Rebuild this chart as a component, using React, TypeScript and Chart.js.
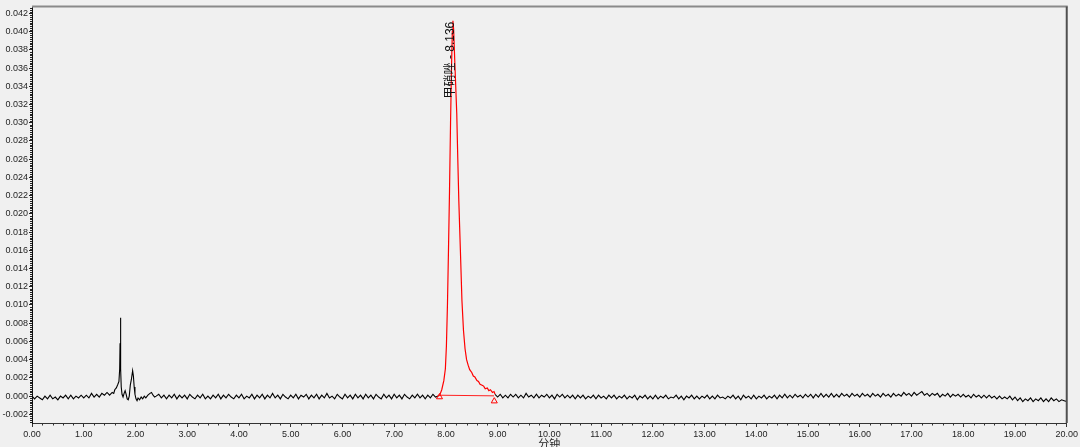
import { useEffect, useRef } from "react";
import { Chart, registerables } from "chart.js";

Chart.register(...registerables);

// ---- axis ticks ----
const xTickValues = [0, 1, 2, 3, 4, 5, 6, 7, 8, 9, 10, 11, 12, 13, 14, 15, 16, 17, 18, 19, 20];
const yTickValues = [
  -0.002, 0.0, 0.002, 0.004, 0.006, 0.008, 0.01, 0.012, 0.014, 0.016, 0.018, 0.02, 0.022,
  0.024, 0.026, 0.028, 0.03, 0.032, 0.034, 0.036, 0.038, 0.04, 0.042,
];
const xMin = 0;
const xMax = 20;
const yMin = -0.00295;
const yMax = 0.04277;
const xTitle = "分钟";

// ---- black trace, uniformly sampled segments ----
const sampleStep = 0.05;

const traceAStart = 0.0;
const traceA = [
  0.0, -0.0003, 0.0, -0.0002, -0.0004, 0.0, -0.0003, 0.0001, -0.0003, -0.0001,
  -0.0004, 0.0, -0.0002, 0.0001, -0.0003, 0.0001, -0.0003, 0.0, -0.0002, 0.0001,
  -0.0002, 0.0001, -0.0002, 0.0003, -0.0001, 0.0002, -0.0001, 0.0003, 0.0001, 0.0004,
];

// small early peaks (irregular sampling)
const earlyTime = [
  1.5, 1.55, 1.58, 1.6, 1.63, 1.66, 1.68, 1.695, 1.702, 1.708, 1.713, 1.718, 1.725, 1.74,
  1.76, 1.78, 1.8, 1.82, 1.84, 1.86, 1.88, 1.9, 1.92, 1.945, 1.96, 1.975, 1.99, 2.01, 2.03,
  2.05, 2.08, 2.11, 2.14, 2.17, 2.2, 2.24, 2.28, 2.31, 2.34, 2.37, 2.4,
];
const earlyValue = [
  0.0001, 0.0004, 0.0003, 0.0007, 0.0009, 0.0013, 0.0016, 0.003, 0.0058, 0.0086, 0.0062,
  0.003, 0.001, 0.0002, -0.0001, 0.0003, 0.0006, 0.0002, -0.0003, -0.0004, 0.0, 0.0012,
  0.0018, 0.0028, 0.0022, 0.001, 0.0002, -0.0003, -0.0005, -0.0002, -0.0004, -0.0001,
  -0.0003, 0.0, -0.0002, 0.0001, 0.0003, 0.0004, 0.0001, -0.0001, 0.0,
];

const traceBStart = 2.45;
const traceB = [
  0.0002, -0.0002, 0.0001, -0.0003, 0.0001, -0.0002, 0.0002, -0.0003, 0.0001, -0.0002,
  0.0001, -0.0003, 0.0002, -0.0001, -0.0003, 0.0001, -0.0002, 0.0002, -0.0003, 0.0,
  -0.0003, 0.0001, -0.0002, 0.0002, -0.0003, 0.0001, -0.0002, 0.0002, -0.0001, -0.0003,
  0.0001, -0.0002, 0.0002, -0.0003, 0.0, -0.0002, 0.0002, -0.0003, 0.0001, -0.0002,
  0.0002, -0.0003, 0.0001, -0.0002, 0.0003, -0.0002, 0.0001, -0.0003, 0.0002, -0.0001,
  -0.0003, 0.0001, -0.0002, 0.0002, -0.0003, 0.0001, -0.0001, 0.0002, -0.0003, 0.0001,
  -0.0002, 0.0002, -0.0003, 0.0001, -0.0002, 0.0003, -0.0002, 0.0, -0.0003, 0.0002,
  -0.0001, -0.0003, 0.0002, -0.0002, 0.0001, -0.0003, 0.0002, -0.0002, 0.0001, -0.0003,
  0.0002, -0.0002, 0.0001, -0.0003, 0.0002, -0.0001, -0.0003, 0.0002, -0.0002, 0.0001,
  -0.0003, 0.0002, -0.0002, 0.0001, -0.0003, 0.0002, -0.0001, -0.0003, 0.0001, -0.0002,
  0.0002, -0.0002, 0.0001, -0.0003, 0.0001, -0.0002, 0.0002, -0.0001, 0.0,
];

const traceCStart = 8.95;
const traceC = [
  0.0002, -0.0001, 0.0002, -0.0002, 0.0001, -0.0002, 0.0002, -0.0001, 0.0002, -0.0002,
  0.0001, -0.0002, 0.0003, -0.0001, 0.0001, -0.0002, 0.0002, -0.0002, 0.0001, -0.0001,
  0.0002, -0.0002, 0.0001, -0.0003, 0.0002, -0.0001, 0.0002, -0.0002, 0.0001, -0.0002,
  0.0001, -0.0003, 0.0001, -0.0002, 0.0001, -0.0003, 0.0, -0.0002, 0.0001, -0.0003,
  0.0001, -0.0002, 0.0, -0.0003, 0.0001, -0.0002, 0.0001, -0.0003, 0.0, -0.0002,
  0.0001, -0.0003, 0.0, -0.0002, 0.0001, -0.0004, 0.0, -0.0002, 0.0001, -0.0003,
  0.0, -0.0003, 0.0001, -0.0003, 0.0, -0.0002, 0.0001, -0.0003, -0.0001, -0.0002,
  0.0001, -0.0003, 0.0, -0.0004, 0.0, -0.0002, 0.0001, -0.0003, 0.0, -0.0003,
  0.0, -0.0002, 0.0001, -0.0003, 0.0, -0.0003, 0.0001, -0.0002, -0.0001, -0.0003,
  0.0, -0.0002, 0.0001, -0.0003, 0.0, -0.0004, 0.0001, -0.0002, 0.0, -0.0003,
  0.0001, -0.0003, 0.0, -0.0002, 0.0001, -0.0003, 0.0, -0.0002, 0.0001, -0.0003,
  0.0001, -0.0002, 0.0002, -0.0002, 0.0001, -0.0002, 0.0002, -0.0001, 0.0001, -0.0002,
  0.0002, -0.0001, 0.0002, -0.0002, 0.0002, -0.0001, 0.0003, -0.0001, 0.0002, -0.0001,
  0.0003, -0.0001, 0.0002, -0.0001, 0.0003, 0.0, 0.0002, -0.0001, 0.0003, 0.0,
  0.0002, -0.0001, 0.0003, 0.0, 0.0002, -0.0001, 0.0003, 0.0, 0.0002, -0.0001,
  0.0003, 0.0, 0.0002, -0.0001, 0.0003, 0.0, 0.0002, 0.0, 0.0004, 0.0001,
  0.0003, 0.0, 0.0004, 0.0001, 0.0003, 0.0005, 0.0001, 0.0003, 0.0, 0.0003,
  0.0001, 0.0003, -0.0001, 0.0002, 0.0, 0.0003, -0.0001, 0.0002, 0.0, 0.0002,
  -0.0001, 0.0002, -0.0001, 0.0001, -0.0002, 0.0002, -0.0001, 0.0001, -0.0002, 0.0001,
  -0.0002, 0.0001, -0.0002, 0.0, -0.0003, 0.0, -0.0003, -0.0001, -0.0003, 0.0,
  -0.0004, -0.0001, -0.0005, -0.0002, -0.0006, -0.0003, -0.0005, -0.0002, -0.0006, -0.0003,
  -0.0005, -0.0002, -0.0006, -0.0003, -0.0006, -0.0002, -0.0005, -0.0003, -0.0006, -0.0004,
  -0.0005, -0.0006,
];

// ---- integrated main peak (red) ----
const peakTime = [
  7.85, 7.88, 7.92, 7.96, 7.99, 8.01, 8.03, 8.05, 8.07, 8.09, 8.11, 8.125, 8.136, 8.15,
  8.17, 8.19, 8.21, 8.23, 8.25, 8.28, 8.31, 8.34, 8.37, 8.4, 8.43, 8.46, 8.5, 8.53, 8.56,
  8.6, 8.63, 8.66, 8.7, 8.73, 8.76, 8.8, 8.83, 8.86, 8.9, 8.93, 8.95,
];
const peakValue = [
  0.0, 0.0001, 0.0007, 0.0017, 0.003, 0.0055, 0.01, 0.016, 0.0225, 0.03, 0.0365, 0.04,
  0.0412, 0.0402, 0.037, 0.034, 0.031, 0.026, 0.0214, 0.016, 0.0105, 0.0072, 0.0052,
  0.004, 0.0034, 0.0029, 0.0026, 0.0022, 0.0021, 0.0017, 0.0016, 0.0013, 0.0012, 0.0011,
  0.0008, 0.0009, 0.0006, 0.0007, 0.0004, 0.0005, 0.0002,
];
const peakLabel = "甲硝唑 - 8.136";
const peakApexTime = 8.136;
const peakApexValue = 0.0412;

// baseline of the integration and its start/end markers
const baselineTime = [7.876, 8.93];
const baselineValue = [0.0001, 0.00003];
const markerTime = [7.876, 8.935];
const markerValue = [-0.0001, -0.00055];

const tickFont = { family: "'Liberation Sans', Arial, sans-serif", size: 9 };

function uniformPoints(start: number, values: number[]) {
  return values.map((v, i) => ({ x: start + i * sampleStep, y: v }));
}

export default function App() {
  const canvasRef = useRef<HTMLCanvasElement | null>(null);

  useEffect(() => {
    document.body.style.margin = "0";
    document.body.style.background = "#f0f0f0";
    const canvas = canvasRef.current;
    if (!canvas) return;

    const blackFirst = [
      ...uniformPoints(traceAStart, traceA),
      ...earlyTime.map((t, i) => ({ x: t, y: earlyValue[i] })),
      ...uniformPoints(traceBStart, traceB),
    ];
    const blackSecond = uniformPoints(traceCStart, traceC);
    const redPeak = peakTime.map((t, i) => ({ x: t, y: peakValue[i] }));
    const redBaseline = baselineTime.map((t, i) => ({ x: t, y: baselineValue[i] }));
    const redMarkers = markerTime.map((t, i) => ({ x: t, y: markerValue[i] }));

    const decorations = {
      id: "decorations",
      afterDraw(chart: any) {
        const { ctx, chartArea } = chart;
        const { left, right, top, bottom } = chartArea;
        const xs = chart.scales.x;
        const ys = chart.scales.y;
        ctx.save();
        // top frame
        ctx.strokeStyle = "#8a8a8a";
        ctx.lineWidth = 2;
        ctx.beginPath();
        ctx.moveTo(left, top);
        ctx.lineTo(right + 1, top);
        ctx.stroke();
        // right frame
        ctx.strokeStyle = "#505050";
        ctx.beginPath();
        ctx.moveTo(right, top);
        ctx.lineTo(right, bottom);
        ctx.stroke();
        // minor x ticks
        ctx.strokeStyle = "#333";
        ctx.lineWidth = 1;
        ctx.beginPath();
        for (let i = 0; i <= 100; i++) {
          if (i % 5 === 0) continue;
          const px = Math.round(xs.getPixelForValue(i * 0.2)) + 0.5;
          ctx.moveTo(px, bottom);
          ctx.lineTo(px, bottom + 2.5);
        }
        ctx.stroke();
        // minor y ticks
        ctx.strokeStyle = "#222";
        ctx.beginPath();
        for (let i = -14; i <= 213; i++) {
          if (i % 10 === 0) continue;
          const py = Math.round(ys.getPixelForValue(i * 0.0002)) + 0.5;
          ctx.moveTo(left - 2, py);
          ctx.lineTo(left, py);
        }
        ctx.stroke();
        // peak label, rotated
        ctx.fillStyle = "#111";
        ctx.font = "12px 'Liberation Sans', 'Noto Sans CJK SC', sans-serif";
        ctx.translate(xs.getPixelForValue(peakApexTime) - 2, ys.getPixelForValue(peakApexValue) + 1);
        ctx.rotate(-Math.PI / 2);
        ctx.textAlign = "right";
        ctx.textBaseline = "middle";
        ctx.fillText(peakLabel, 0, 0);
        ctx.setTransform(1, 0, 0, 1, 0, 0);
        // x title
        ctx.fillStyle = "#222";
        ctx.font = "11px 'Noto Sans CJK SC', sans-serif";
        ctx.textAlign = "center";
        ctx.textBaseline = "top";
        ctx.fillText(xTitle, (left + right) / 2, 438);
        ctx.restore();
      },
    };

    const chart = new Chart(canvas, {
      type: "line",
      data: {
        datasets: [
          {
            data: redMarkers,
            showLine: false,
            pointStyle: "triangle",
            pointRadius: 3.5,
            pointBorderWidth: 1,
            pointBorderColor: "#ff0000",
            pointBackgroundColor: "rgba(0,0,0,0)",
            borderColor: "#ff0000",
          },
          { data: redBaseline, borderColor: "#ff2020", borderWidth: 1, pointRadius: 0 },
          { data: redPeak, borderColor: "#ff0000", borderWidth: 1.2, pointRadius: 0 },
          { data: blackFirst, borderColor: "#000", borderWidth: 1.1, pointRadius: 0 },
          { data: blackSecond, borderColor: "#000", borderWidth: 1.1, pointRadius: 0 },
        ],
      },
      options: {
        animation: false,
        responsive: false,
        maintainAspectRatio: false,
        layout: { padding: { left: 0, top: 5, right: 12, bottom: 0 } },
        plugins: { legend: { display: false }, tooltip: { enabled: false } },
        elements: { line: { tension: 0, fill: false }, point: { radius: 0 } },
        scales: {
          x: {
            type: "linear",
            min: xMin,
            max: xMax,
            afterBuildTicks: (s: any) => {
              s.ticks = xTickValues.map((v) => ({ value: v }));
            },
            afterFit: (s: any) => {
              s.height = 24;
            },
            grid: { drawOnChartArea: false, drawTicks: true, tickLength: 4, color: "#333" },
            border: { display: true, color: "#333", width: 1 },
            ticks: {
              font: tickFont,
              color: "#1e1e1e",
              padding: 2,
              maxRotation: 0,
              autoSkip: false,
              callback: (v: any) => Number(v).toFixed(2),
            },
          },
          y: {
            type: "linear",
            min: yMin,
            max: yMax,
            afterBuildTicks: (s: any) => {
              s.ticks = yTickValues.map((v) => ({ value: v }));
            },
            afterFit: (s: any) => {
              s.width = 32;
            },
            grid: { drawOnChartArea: false, drawTicks: true, tickLength: 3, color: "#222" },
            border: { display: true, color: "#111", width: 1 },
            ticks: {
              font: tickFont,
              color: "#1e1e1e",
              padding: 1,
              autoSkip: false,
              callback: (v: any) => Number(v).toFixed(3),
            },
          },
        },
      },
      plugins: [decorations],
    } as any);

    return () => chart.destroy();
  }, []);

  return <canvas ref={canvasRef} width={1080} height={447} style={{ display: "block" }} />;
}
